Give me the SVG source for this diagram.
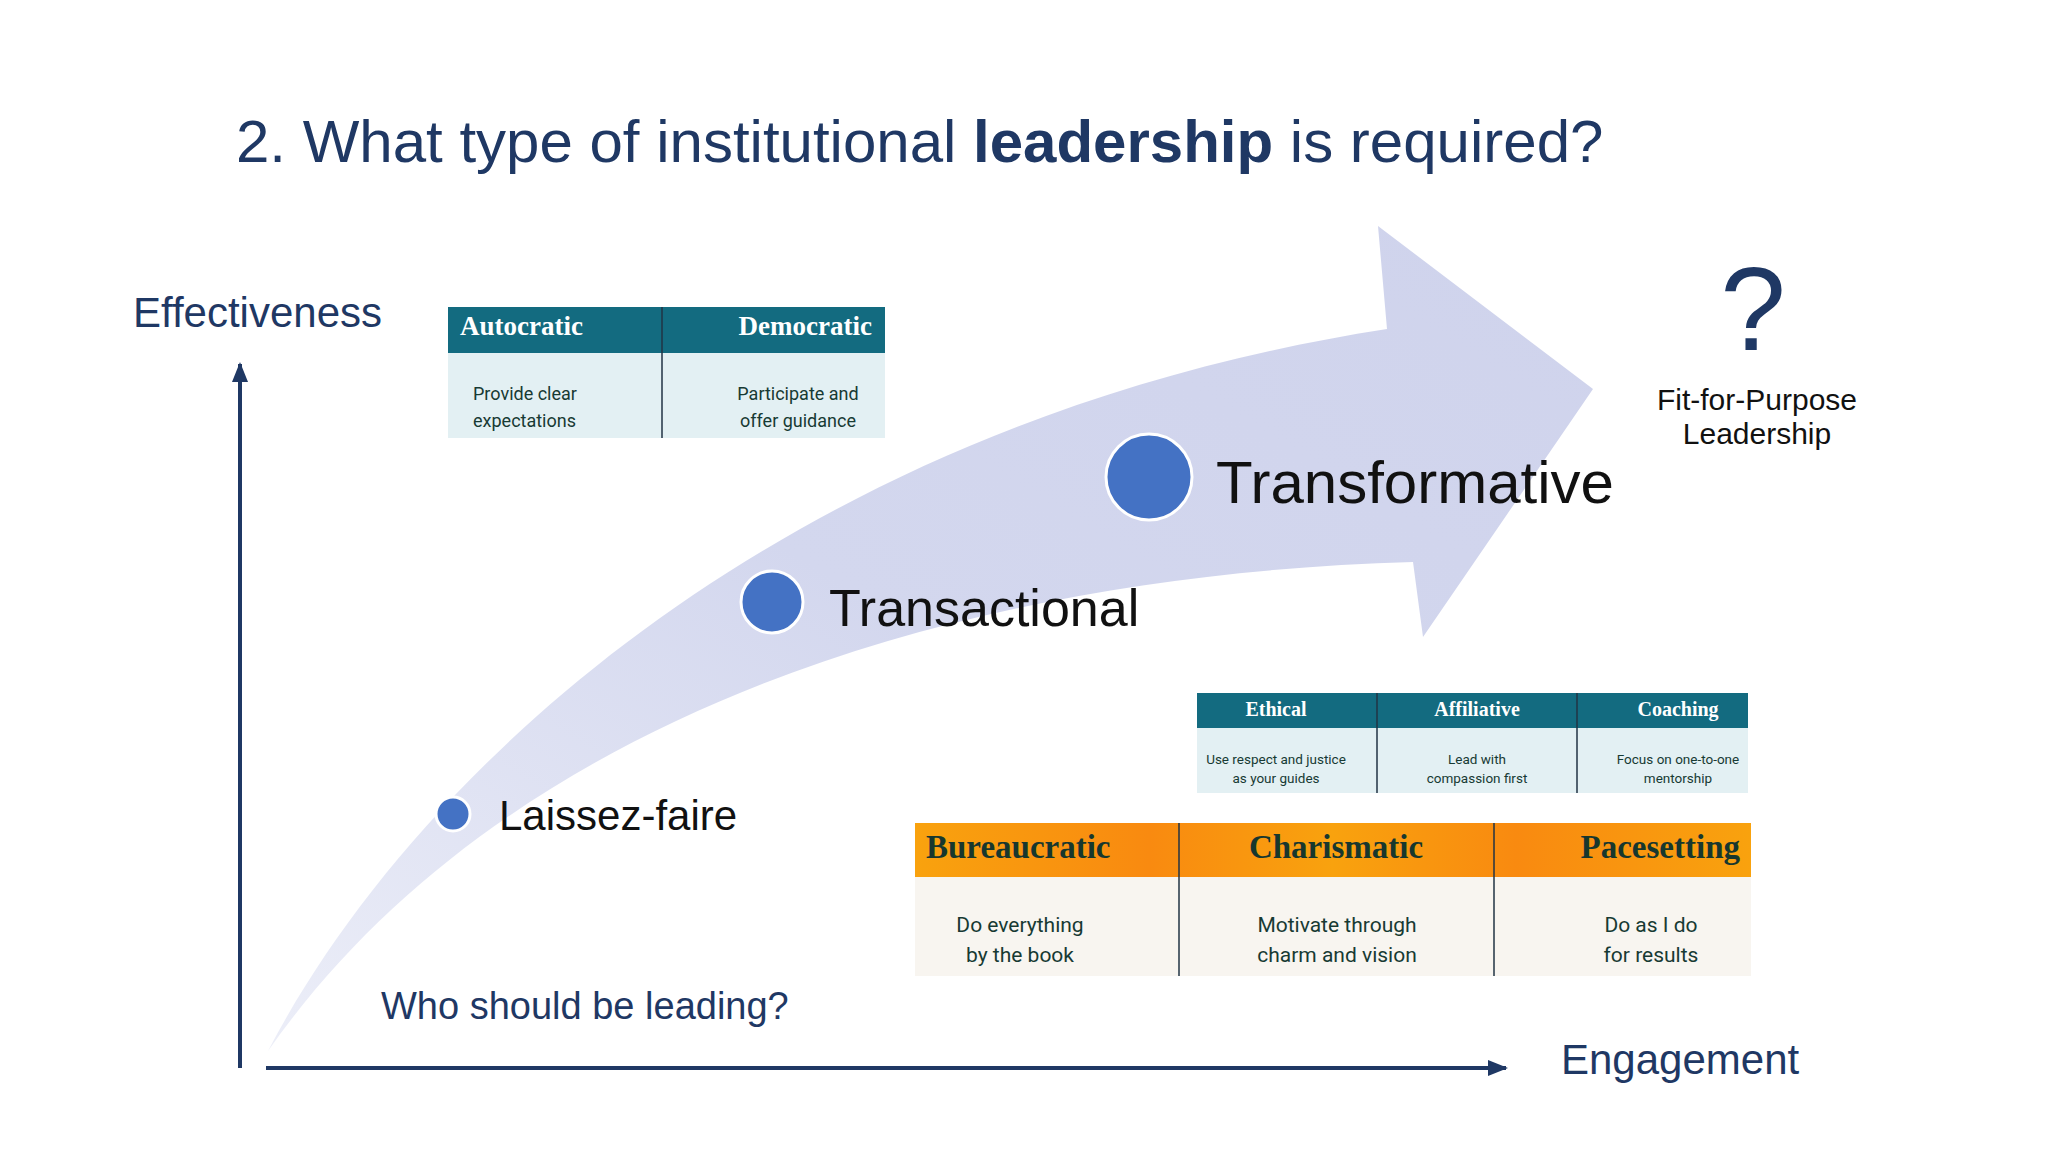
<svg xmlns="http://www.w3.org/2000/svg" width="2048" height="1152" viewBox="0 0 2048 1152">
<defs>
<style>
.nv{fill:#1f3864;font-family:Arial,"Liberation Sans",sans-serif}
.bk{fill:#111;font-family:Arial,"Liberation Sans",sans-serif}
.th{fill:#fff;font-family:"Liberation Serif",serif;font-weight:bold}
.oh{fill:#17372e;font-family:"Liberation Serif",serif;font-weight:bold;font-size:33px}
.tb{fill:#173a33;font-family:Roboto,sans-serif}
.dot{fill:#4472c4;stroke:#fff;stroke-width:3}
.div{stroke:#234;stroke-width:1.5}
</style>
<linearGradient id="band" x1="0" y1="1" x2="1" y2="0">
<stop offset="0" stop-color="#eceef8"/><stop offset="0.5" stop-color="#d3d7ee"/><stop offset="1" stop-color="#cfd3ec"/>
</linearGradient>
<linearGradient id="og" x1="0" y1="0" x2="1" y2="0">
<stop offset="0" stop-color="#f9a20e"/><stop offset="0.28" stop-color="#f98a10"/><stop offset="0.5" stop-color="#f9a20e"/><stop offset="0.72" stop-color="#f98a10"/><stop offset="1" stop-color="#f9a20e"/>
</linearGradient>
<marker id="ah2" markerWidth="20" markerHeight="16" refX="18" refY="8" orient="auto" markerUnits="userSpaceOnUse"><path d="M0,0 L20,8 L0,16 Z" fill="#1f3864"/></marker>
</defs>
<rect width="2048" height="1152" fill="#fff"/>
<text class="nv" x="236" y="162" font-size="60">2. What type of institutional <tspan font-weight="bold">leadership</tspan> is required?</text>

<g id="connectors">
<path d="M268,1051 C420,760 800,420 1387,329 L1378,226 L1593,389 L1423,637 L1413,562 C950,575 500,720 268,1051 Z" fill="url(#band)"/>
<line x1="240" y1="1068" x2="240" y2="364" stroke="#1f3864" stroke-width="4" marker-end="url(#ah2)"/>
<line x1="266" y1="1068" x2="1506" y2="1068" stroke="#1f3864" stroke-width="4" marker-end="url(#ah2)"/>
</g>
<text class="nv" x="133" y="327" font-size="42">Effectiveness</text>
<text class="nv" x="1561" y="1074" font-size="42">Engagement</text>
<text class="nv" x="381" y="1019" font-size="38">Who should be leading?</text>

<g id="laissez"><circle class="dot" cx="453" cy="814" r="17"/><text class="bk" x="499" y="830" font-size="42">Laissez-faire</text></g>
<g id="transactional"><circle class="dot" cx="772" cy="602" r="31"/><text class="bk" x="829" y="626" font-size="52">Transactional</text></g>
<g id="transformative"><circle class="dot" cx="1149" cy="477" r="43"/><text class="bk" x="1216" y="503" font-size="60">Transformative</text></g>
<g id="fit"><text class="nv" x="1753" y="350" font-size="118" text-anchor="middle">?</text>
<text class="bk" x="1757" y="410" font-size="30" text-anchor="middle">Fit-for-Purpose</text>
<text class="bk" x="1757" y="444" font-size="30" text-anchor="middle">Leadership</text></g>

<g id="table1">
<rect x="448" y="353" width="437" height="85" fill="#e3f0f3"/>
<rect x="448" y="307" width="437" height="46" fill="#136b80"/>
<line class="div" x1="662" y1="307" x2="662" y2="438"/>
<text class="th" x="460" y="335" font-size="27">Autocratic</text>
<text class="th" x="872" y="335" font-size="27" text-anchor="end">Democratic</text>
<text class="tb" x="473" y="400" font-size="18">Provide clear</text>
<text class="tb" x="473" y="427" font-size="18">expectations</text>
<text class="tb" x="798" y="400" font-size="18" text-anchor="middle">Participate and</text>
<text class="tb" x="798" y="427" font-size="18" text-anchor="middle">offer guidance</text>
</g>

<g id="table2">
<rect x="1197" y="728" width="551" height="65" fill="#e3f0f3"/>
<rect x="1197" y="693" width="551" height="35" fill="#136b80"/>
<line class="div" x1="1377" y1="693" x2="1377" y2="793"/>
<line class="div" x1="1577" y1="693" x2="1577" y2="793"/>
<text class="th" x="1276" y="716" font-size="20" text-anchor="middle">Ethical</text>
<text class="th" x="1477" y="716" font-size="20" text-anchor="middle">Affiliative</text>
<text class="th" x="1678" y="716" font-size="20" text-anchor="middle">Coaching</text>
<text class="tb" x="1276" y="764" font-size="13.5" text-anchor="middle">Use respect and justice</text>
<text class="tb" x="1276" y="783" font-size="13.5" text-anchor="middle">as your guides</text>
<text class="tb" x="1477" y="764" font-size="13.5" text-anchor="middle">Lead with</text>
<text class="tb" x="1477" y="783" font-size="13.5" text-anchor="middle">compassion first</text>
<text class="tb" x="1678" y="764" font-size="13.5" text-anchor="middle">Focus on one-to-one</text>
<text class="tb" x="1678" y="783" font-size="13.5" text-anchor="middle">mentorship</text>
</g>

<g id="table3">
<rect x="915" y="877" width="836" height="99" fill="#f8f5f0"/>
<rect x="915" y="823" width="836" height="54" fill="url(#og)"/>
<line class="div" x1="1179" y1="823" x2="1179" y2="976"/>
<line class="div" x1="1494" y1="823" x2="1494" y2="976"/>
<text class="oh" x="926" y="858">Bureaucratic</text>
<text class="oh" x="1336" y="858" text-anchor="middle">Charismatic</text>
<text class="oh" x="1740" y="858" text-anchor="end">Pacesetting</text>
<text class="tb" x="1020" y="932" font-size="21" text-anchor="middle">Do everything</text>
<text class="tb" x="1020" y="962" font-size="21" text-anchor="middle">by the book</text>
<text class="tb" x="1337" y="932" font-size="21" text-anchor="middle">Motivate through</text>
<text class="tb" x="1337" y="962" font-size="21" text-anchor="middle">charm and vision</text>
<text class="tb" x="1651" y="932" font-size="21" text-anchor="middle">Do as I do</text>
<text class="tb" x="1651" y="962" font-size="21" text-anchor="middle">for results</text>
</g>
</svg>
